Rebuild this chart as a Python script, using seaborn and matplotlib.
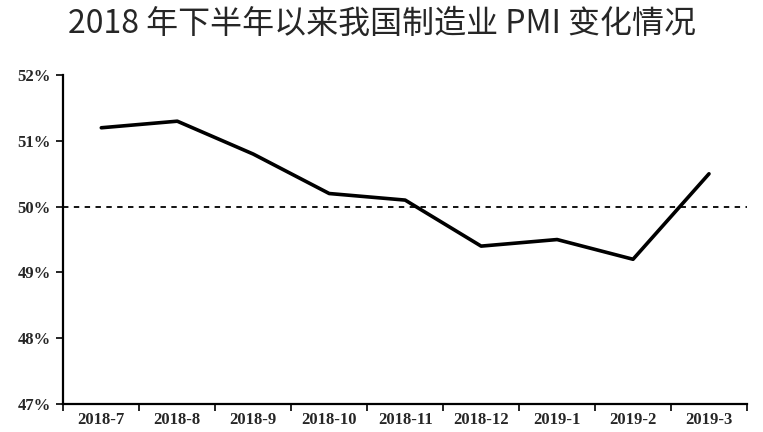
import matplotlib
matplotlib.use("Agg")
import matplotlib.pyplot as plt
import numpy as np
import pandas as pd
import seaborn as sns

months = ["2018-7", "2018-8", "2018-9", "2018-10", "2018-11",
          "2018-12", "2019-1", "2019-2", "2019-3"]
pmi = [51.2, 51.3, 50.8, 50.2, 50.1, 49.4, 49.5, 49.2, 50.5]
y_ticks = [47, 48, 49, 50, 51, 52]
threshold = 50

sns.set_theme(style="white")
plt.rcParams["font.family"] = ["Liberation Serif", "Noto Sans CJK SC"]

df = pd.DataFrame({"month": months, "pmi": pmi})
df["pos"] = np.arange(len(months))

fig = plt.figure(figsize=(7.63, 4.32), dpi=100)
ax = fig.add_axes([0.083, 0.065, 0.896, 0.761])

ax.axhline(threshold, color="black", lw=1.3, ls=(0, (3, 3)))
sns.lineplot(data=df, x="pos", y="pmi", color="black", lw=2.6, ax=ax)

ax.set_xlim(-0.5, len(months) - 0.5)
ax.set_ylim(47, 52)
ax.set_xticks(df["pos"])
ax.set_xticklabels(months, fontsize=12, fontweight="bold")
ax.set_xticks(np.arange(len(months) + 1) - 0.5, minor=True)
ax.tick_params(axis="x", which="major", bottom=True, length=0, pad=6)
ax.tick_params(axis="x", which="minor", bottom=True, length=5, width=1.2,
               color="black", direction="out")
ax.set_yticks(y_ticks)
ax.set_yticklabels([f"{v}%" for v in y_ticks], fontsize=12, fontweight="bold")
ax.tick_params(axis="y", left=True, length=5, width=1.2, color="black",
               direction="out", pad=4)
ax.set_xlabel("")
ax.set_ylabel("")
for side in ("top", "right"):
    ax.spines[side].set_visible(False)
for side in ("left", "bottom"):
    ax.spines[side].set_color("black")
    ax.spines[side].set_linewidth(1.6)

fig.text(0.5, 0.945, "2018 年下半年以来我国制造业 PMI 变化情况", ha="center", va="center",
         fontsize=23, family=["Noto Sans CJK SC", "DejaVu Sans"])

fig.savefig("out.png", dpi=100)
